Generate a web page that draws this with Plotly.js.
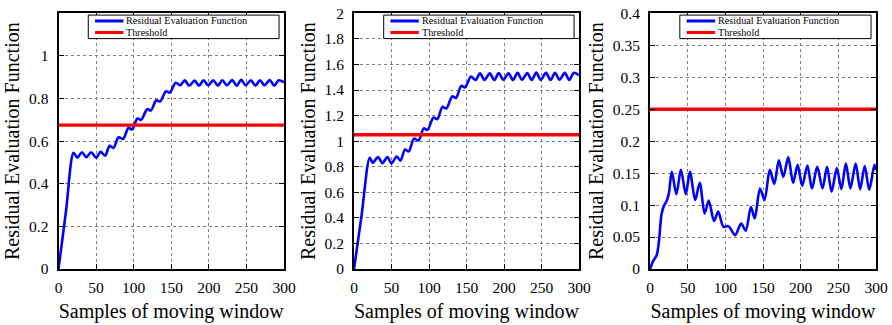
<!DOCTYPE html>
<html>
<head>
<meta charset="utf-8">
<script src="https://cdn.plot.ly/plotly-3.0.1.min.js"></script>
<style>html,body{margin:0;padding:0;background:#fff;}#chart{width:892px;height:325px;}</style>
</head>
<body>
<div id="chart"></div>
<script>
// ---- data ----
const xTicks = [0, 50, 100, 150, 200, 250, 300];
const thresholdX = [0, 300];

const x1 = [0,10,20,25,31,37,43.5,50,56,62,68,73,80,86,93,98,105,110,118,123,130,135,143,148,156,162,168,174,181,187,193,199,206,212,218,224,231,237,243,249,256,262,268,274,281,287,293,300];
const y1 = [0,0.272,0.545,0.522,0.548,0.525,0.548,0.522,0.550,0.532,0.578,0.568,0.618,0.610,0.662,0.655,0.706,0.700,0.750,0.744,0.792,0.786,0.834,0.828,0.874,0.862,0.885,0.860,0.884,0.860,0.886,0.862,0.885,0.860,0.886,0.862,0.887,0.860,0.888,0.862,0.886,0.860,0.886,0.862,0.887,0.860,0.886,0.876];
const thr1 = 0.675;
const yTicks1 = [0, 0.2, 0.4, 0.6, 0.8, 1];
const yText1 = ['0', '0.2', '0.4', '0.6', '0.8', '1'];

const x2 = [0,10,21,25,32,38,44.5,50,57,62,68,73,80,86,93,98,106,111,118,123,131,136,143,148,156,162,168,174,181,187,193,199,206,212,218,224,231,237,243,249,256,262,268,274,281,287,293,300];
const y2 = [0,0.415,0.870,0.830,0.876,0.828,0.876,0.826,0.880,0.848,0.935,0.920,1.020,1.005,1.100,1.088,1.185,1.172,1.268,1.255,1.350,1.338,1.432,1.420,1.505,1.478,1.530,1.478,1.530,1.478,1.532,1.480,1.530,1.478,1.534,1.480,1.532,1.478,1.536,1.480,1.534,1.478,1.534,1.480,1.534,1.478,1.534,1.515];
const thr2 = 1.05;
const yTicks2 = [0, 0.2, 0.4, 0.6, 0.8, 1, 1.2, 1.4, 1.6, 1.8, 2];
const yText2 = ['0', '0.2', '0.4', '0.6', '0.8', '1', '1.2', '1.4', '1.6', '1.8', '2'];

const x3 = [0,4,9,12,15.5,19,22,25,29,35,41,47.5,53,60,66,72.5,78,85,90.5,97.5,104,113,121,127,134,139,146,152,159,165,171,177,183.5,190,196,202,209,215,222,229,235,241,248,254,260,266,273,279,285,291,298,300];
const y3 = [0,0.012,0.022,0.045,0.087,0.100,0.106,0.118,0.152,0.117,0.155,0.117,0.152,0.108,0.135,0.087,0.107,0.075,0.090,0.066,0.067,0.053,0.071,0.060,0.097,0.079,0.126,0.108,0.155,0.133,0.170,0.144,0.175,0.135,0.163,0.130,0.162,0.126,0.160,0.126,0.160,0.121,0.158,0.125,0.165,0.126,0.165,0.125,0.161,0.124,0.163,0.155];
const thr3 = 0.25;
const yTicks3 = [0, 0.05, 0.1, 0.15, 0.2, 0.25, 0.3, 0.35, 0.4];
const yText3 = ['0', '0.05', '0.1', '0.15', '0.2', '0.25', '0.3', '0.35', '0.4'];

const seriesName = 'Residual Evaluation Function';
const thrName = 'Threshold';
const xTitle = 'Samples of moving window';
const yTitle = 'Residual Evaluation Function';

// ---- build ----
const serif = "'Liberation Serif', 'Times New Roman', serif";
const BLUE = '#0000ff', RED = '#ff0000';

function curve(x, y, xa, ya) {
  return {x: x, y: y, xaxis: xa, yaxis: ya, type: 'scatter', mode: 'lines',
    line: {color: BLUE, width: 2.6, shape: 'spline', smoothing: 0.85}, name: seriesName, showlegend: false, hoverinfo: 'skip'};
}
function thrLine(t, xa, ya) {
  return {x: thresholdX, y: [t, t], xaxis: xa, yaxis: ya, type: 'scatter', mode: 'lines',
    line: {color: RED, width: 3.4}, name: thrName, showlegend: false, hoverinfo: 'skip'};
}

const data = [
  curve(x1, y1, 'x', 'y'), thrLine(thr1, 'x', 'y'),
  curve(x2, y2, 'x2', 'y2'), thrLine(thr2, 'x2', 'y2'),
  curve(x3, y3, 'x3', 'y3'), thrLine(thr3, 'x3', 'y3')
];

const W = 892, H = 325;
const yDom = [(H - 269) / H, (H - 13.3) / H];
const xDoms = [[58.5 / W, 284 / W], [354 / W, 579 / W], [650 / W, 876 / W]];

const common = {
  showline: true, linecolor: '#000', linewidth: 2, mirror: 'ticks', ticks: 'inside', ticklen: 5, tickcolor: '#000', tickwidth: 1,
  showgrid: true, gridcolor: '#808080', griddash: 'dot', gridwidth: 1, zeroline: false,
  tickfont: {family: serif, size: 15.5, color: '#000'}
};
function xAxis(dom, anchor) {
  return Object.assign({}, common, {domain: dom, anchor: anchor, range: [0, 300], tickvals: xTicks, ticktext: xTicks.map(String),
    ticklabelstandoff: 3,
    title: {text: xTitle, font: {family: serif, size: 20, color: '#000'}, standoff: 9}});
}
function yAxis(range, tv, tt, anchor) {
  return Object.assign({}, common, {domain: yDom, anchor: anchor, range: range, tickvals: tv, ticktext: tt,
    ticklabelstandoff: 5,
    title: {text: yTitle, font: {family: serif, size: 20, color: '#000'}, standoff: 4}});
}

const shapes = [], annotations = [];
const legY1 = 0.970, legY2 = 0.925;
[['x', 'y'], ['x2', 'y2'], ['x3', 'y3']].forEach(([xa, ya]) => {
  const xr = xa + ' domain', yr = ya + ' domain';
  shapes.push({type: 'rect', xref: xr, yref: yr, x0: 0.132, x1: 0.978, y0: 0.901, y1: 0.993,
    line: {color: '#000', width: 1}, fillcolor: '#fff', layer: 'above'});
  shapes.push({type: 'line', xref: xr, yref: yr, x0: 0.162, x1: 0.288, y0: legY1, y1: legY1, line: {color: BLUE, width: 3}});
  shapes.push({type: 'line', xref: xr, yref: yr, x0: 0.162, x1: 0.288, y0: legY2, y1: legY2, line: {color: RED, width: 3}});
  annotations.push({xref: xr, yref: yr, x: 0.297, y: legY1, xanchor: 'left', yanchor: 'middle', showarrow: false, borderpad: 0,
    text: seriesName, font: {family: serif, size: 10.2, color: '#000'}});
  annotations.push({xref: xr, yref: yr, x: 0.297, y: legY2, xanchor: 'left', yanchor: 'middle', showarrow: false, borderpad: 0,
    text: thrName, font: {family: serif, size: 10.2, color: '#000'}});
});

const layout = {
  width: W, height: H, margin: {l: 0, r: 0, t: 0, b: 0},
  paper_bgcolor: '#fff', plot_bgcolor: '#fff', showlegend: false,
  xaxis: xAxis(xDoms[0], 'y'), yaxis: yAxis([0, 1.2], yTicks1, yText1, 'x'),
  xaxis2: xAxis(xDoms[1], 'y2'), yaxis2: yAxis([0, 2], yTicks2, yText2, 'x2'),
  xaxis3: xAxis(xDoms[2], 'y3'), yaxis3: yAxis([0, 0.4], yTicks3, yText3, 'x3'),
  shapes: shapes, annotations: annotations
};

Plotly.newPlot('chart', data, layout, {displayModeBar: false, staticPlot: true});
</script>
</body>
</html>
